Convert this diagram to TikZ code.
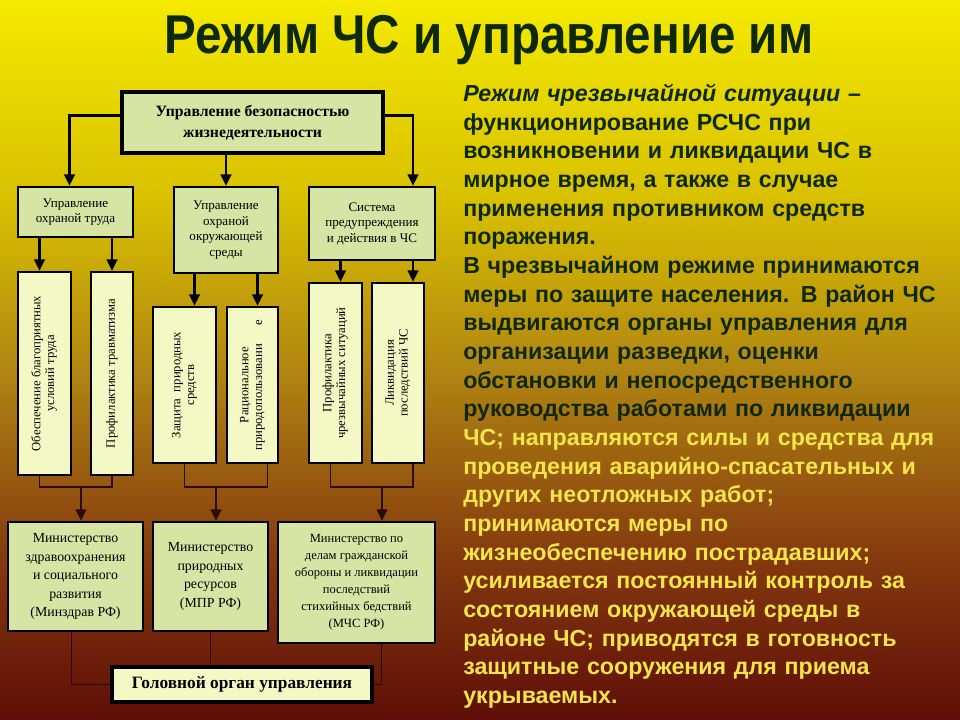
\documentclass[tikz,border=0pt]{standalone}
\usepackage{fontspec}
\setmainfont{Liberation Serif}
\newfontfamily\arial{Liberation Sans}
\usetikzlibrary{arrows.meta,calc}
\definecolor{ink}{HTML}{000000}
\definecolor{wire}{HTML}{2A0C02}
\definecolor{leaf}{HTML}{D6E5A4}
\definecolor{pale}{HTML}{F4F8C4}
\definecolor{deepgreen}{HTML}{0E280A}
\definecolor{lemon}{HTML}{F4E64A}
\definecolor{bgtop}{HTML}{F4EA00}
\definecolor{bgyel}{HTML}{D8C000}
\definecolor{bgmid}{HTML}{B08412}
\definecolor{bglow}{HTML}{84380E}
\definecolor{bgbot}{HTML}{5E0E08}
\pgfdeclareverticalshading{bgshade}{100bp}{color(0bp)=(bgbot); color(25bp)=(bgbot); color(36bp)=(bglow); color(49bp)=(bgmid); color(61bp)=(bgyel); color(75bp)=(bgtop); color(100bp)=(bgtop)}
\tikzset{
  every node/.style={inner sep=0pt,text=ink},
  sz/.style 2 args={minimum width=#1*0.75pt,minimum height=#2*0.75pt},
  box/.style={draw=ink,line width=1.8pt,fill=leaf,align=center,font=\fontsize{9.8}{11.6}\selectfont},
  tall/.style={box,fill=pale,font=\fontsize{9.5}{10.4}\selectfont},
  boss/.style={box,line width=2.4pt,font=\bfseries\fontsize{11.8}{16}\selectfont},
  title/.style={font=\arial\bfseries\fontsize{41}{41}\selectfont,text=deepgreen},
  body/.style={font=\arial\bfseries\fontsize{17.4}{21.5}\selectfont,text=deepgreen,align=left,text width=495*0.75pt},
  link/.style={-{Triangle[length=8.5pt,width=8pt]},line width=1.6pt,draw=ink},
  bracketline/.style={line width=1pt,draw=wire},
  dropline/.style={bracketline,-{Triangle[length=8.5pt,width=8pt]}},
}
\newcommand{\vtext}[1]{\rotatebox{90}{\begin{tabular}{@{}c@{}}#1\end{tabular}}}

\begin{document}
\begin{tikzpicture}[x=0.75pt,y=-0.75pt]
\useasboundingbox (0,0) rectangle (960,720);
\fill[shading=bgshade] (0,0) rectangle (960,720);
\node[title] (ttl) at (489,40) {\scalebox{0.87}[1]{Режим ЧС и управление им}};
% scheme
\node[boss,sz={261}{61}] (top) at (252.5,122.5) {Управление безопасностью\\жизнедеятельности};
\node[box,sz={115}{50}] (b1) at (75.5,212) {Управление\\охраной труда};
\node[box,sz={104}{86}] (b2) at (226,230) {Управление\\охраной\\окружающей\\среды};
\node[box,sz={126}{73}] (b3) at (372,223.5) {Система\\предупреждения\\и действия в ЧС};
\draw[link] ($(top.west)+(0,-7)$) -| ($(b1.north)+(-6,0)$);
\draw[link] (top.south -| b2.north) -- (b2.north);
\draw[link] ($(top.east)+(0,-7)$) -| ($(b3.north)+(41,0)$);
\node[tall,sz={53}{203}] (r1) at (44.5,373.5) {\vtext{Обеспечение благоприятных\\условий труда}};
\node[tall,sz={42}{203}] (r2) at (112,373.5) {\vtext{Профилактика травматизма}};
\node[tall,sz={63}{156}] (r3) at (184.5,385) {\vtext{Защита\enspace природных\\средств}};
\node[tall,sz={51}{156}] (r4) at (252.5,385) {\vtext{Рациональное\\природопользовани\hspace{1.5em}е}};
\node[tall,sz={53}{180}] (r5) at (335.5,373) {\vtext{Профилактика\\чрезвычайных ситуаций}};
\node[tall,sz={52}{180}] (r6) at (398,373) {\vtext{Ликвидация\\последствий ЧС}};
\coordinate (a1) at ($(r1.north)+(-5,0)$);
\coordinate (a3) at ($(r3.north)+(10,0)$);
\coordinate (a4) at ($(r4.north)+(5,0)$);
\coordinate (a5) at ($(r5.north)+(5,0)$);
\coordinate (a6) at ($(r6.north)+(15,0)$);
\draw[link] (a1 |- b1.south) -- (a1);
\draw[link] (b1.south -| r2.north) -- (r2.north);
\draw[link] (a3 |- b2.south) -- (a3);
\draw[link] (a4 |- b2.south) -- (a4);
\draw[link] (a5 |- b3.south) -- (a5);
\draw[link] (a6 |- b3.south) -- (a6);
\node[box,sz={135}{109},font=\fontsize{10.4}{13.9}\selectfont] (m1) at (75.5,576.5) {Министерство\\здравоохранения\\и социального\\развития\\(Минздрав РФ)};
\node[box,sz={115}{109},font=\fontsize{10.4}{13.9}\selectfont] (m2) at (210.5,576.5) {Министерство\\природных\\ресурсов\\(МПР РФ)};
\node[box,sz={157}{121},font=\fontsize{9.4}{12.8}\selectfont] (m3) at (356.5,582.5) {Министерство по\\делам гражданской\\обороны и ликвидации\\последствий\\стихийных бедствий\\(МЧС РФ)};
\coordinate (j1) at (81,487);
\coordinate (j2) at (216,487);
\coordinate (j3) at (382,487);
\draw[bracketline] ($(r1.south)+(-5,0)$) |- (j1) -| (r2.south);
\draw[bracketline] (r3.south) |- (j2) -| ($(r4.south)+(15,0)$);
\draw[bracketline] ($(r5.south)+(-5,0)$) |- (j3) -| ($(r6.south)+(15,0)$);
\draw[dropline] (j1) -- (j1 |- m1.north);
\draw[dropline] (j2) -- (j2 |- m2.north);
\draw[dropline] (j3) -- (j3 |- m3.north);
\node[boss,sz={260}{35},fill=pale,font=\bfseries\fontsize{13}{15}\selectfont] (head) at (242,684.5) {Головной орган управления};
\draw[bracketline] ($(m1.south)+(-4,0)$) |- (head.west);
\draw[bracketline] (m2.south) -- (m2.south |- head.north);
\draw[bracketline] ($(m3.south)+(25,0)$) |- (head.east);
% definition text
\node[body,anchor=north west] (def) at (463,84) {\itshape Режим чрезвычайной ситуации –\upshape\\
функционирование РСЧС при\\
возникновении и ликвидации ЧС в\\
мирное время, а также в случае\\
применения противником средств\\
поражения.\\
В чрезвычайном режиме принимаются\\
меры по защите населения. В район ЧС\\
выдвигаются органы управления для\\
организации разведки, оценки\\
обстановки и непосредственного\\
руководства работами по ликвидации\\
\color{lemon}ЧС; направляются силы и средства для\\
проведения аварийно-спасательных и\\
других неотложных работ;\\
принимаются меры по\\
жизнеобеспечению пострадавших;\\
усиливается постоянный контроль за\\
состоянием окружающей среды в\\
районе ЧС; приводятся в готовность\\
защитные сооружения для приема\\
укрываемых.};
\end{tikzpicture}
\end{document}
